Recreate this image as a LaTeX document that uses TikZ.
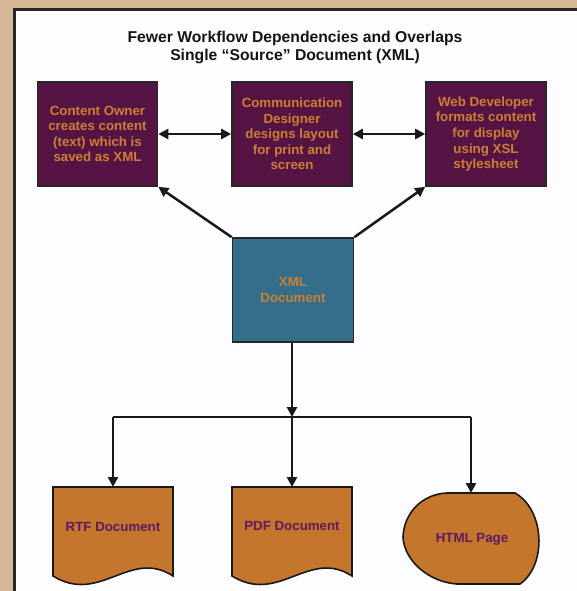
\documentclass[tikz,border=0pt]{standalone}
\usepackage{fontspec}
\setmainfont{Liberation Sans}
\usetikzlibrary{arrows.meta}
\definecolor{tan}{RGB}{214,184,150}
\definecolor{panel}{RGB}{253,253,255}
\definecolor{plum}{RGB}{86,20,68}
\definecolor{ochre}{RGB}{204,128,52}
\definecolor{docfill}{RGB}{196,118,44}
\definecolor{teal}{RGB}{52,110,138}
\definecolor{doctxt}{RGB}{96,26,96}
\tikzset{
  role/.style={draw=black!85, line width=1.6pt, fill=plum, text=ochre, align=center,
    minimum width=120pt, minimum height=104pt, inner sep=0pt,
    font=\fontsize{13.3}{15.6}\selectfont\bfseries},
  xmlbox/.style={role, fill=teal, minimum width=121pt},
  docshape/.style={draw=black!90, line width=1.6pt, fill=docfill},
  doctext/.style={text=doctxt, font=\fontsize{13.3}{15.8}\selectfont\bfseries},
  conn/.style={line width=2.5pt, draw=black!90},
  arr/.style={conn, -{Triangle[length=10pt,width=10pt]}},
  darr/.style={conn, {Triangle[length=10pt,width=10pt]}-{Triangle[length=10pt,width=10pt]}},
  ttl/.style={font=\fontsize{15.7}{18}\selectfont\bfseries, text=black!92}
}
\begin{document}
\begin{tikzpicture}[x=1pt,y=-1pt]
\useasboundingbox (0,0) rectangle (577,591);
\fill[tan] (0,0) rectangle (577,591);
\draw[line width=3pt, draw=black!85, fill=panel] (14.5,10) rectangle (600,610);

\node[ttl] (t1) at (295,38) {Fewer Workflow Dependencies and Overlaps};
\node[ttl] (t2) at (295,56) {Single “Source” Document (XML)};

\node[role] (owner) at (97.5,134) {Content Owner\\creates content\\(text) which is\\saved as XML};
\node[role] (design) at (292,134) {Communication\\Designer\\designs layout\\for print and\\screen};
\node[role] (web) at (486,134) {Web Developer\\formats content\\for display\\using XSL\\stylesheet};
\node[xmlbox] (xml) at (293,290) {XML\\Document};

\draw[darr] (owner.east) -- (design.west);
\draw[darr] (design.east) -- (web.west);
\draw[arr] (xml.north west) -- (owner.south east);
\draw[arr] (xml.north east) -- (web.south west);

% document shapes
\draw[docshape] (53,487) -- (173,487) -- (173,576)
  .. controls (130,548) and (100,605) .. (53,576) -- cycle;
\draw[docshape] (232,487) -- (352,487) -- (352,576)
  .. controls (309,548) and (279,605) .. (232,576) -- cycle;
\draw[docshape] (447,493) -- (515,493)
  .. controls (545,510) and (547,565) .. (520,584) -- (457,584)
  .. controls (428,582) and (404,560) .. (403,537)
  .. controls (404,513) and (422,494) .. (447,493) -- cycle;

\node[doctext] (rtf) at (113,527) {RTF Document};
\node[doctext] (pdf) at (292,526) {PDF Document};
\node[doctext] (html) at (472,539) {HTML Page};

\coordinate (j) at (292,417);
\coordinate (jl) at (113,417);
\coordinate (jr) at (471,417);
\coordinate (rtftop) at (113,487);
\coordinate (pdftop) at (292,487);
\coordinate (htmltop) at (471,493);

\draw[arr] (xml.south -| j) -- (j);
\draw[conn] (jl) -- (jr);
\draw[arr] (jl) -- (rtftop);
\draw[arr] (j) -- (pdftop);
\draw[arr] (jr) -- (htmltop);
\end{tikzpicture}
\end{document}
